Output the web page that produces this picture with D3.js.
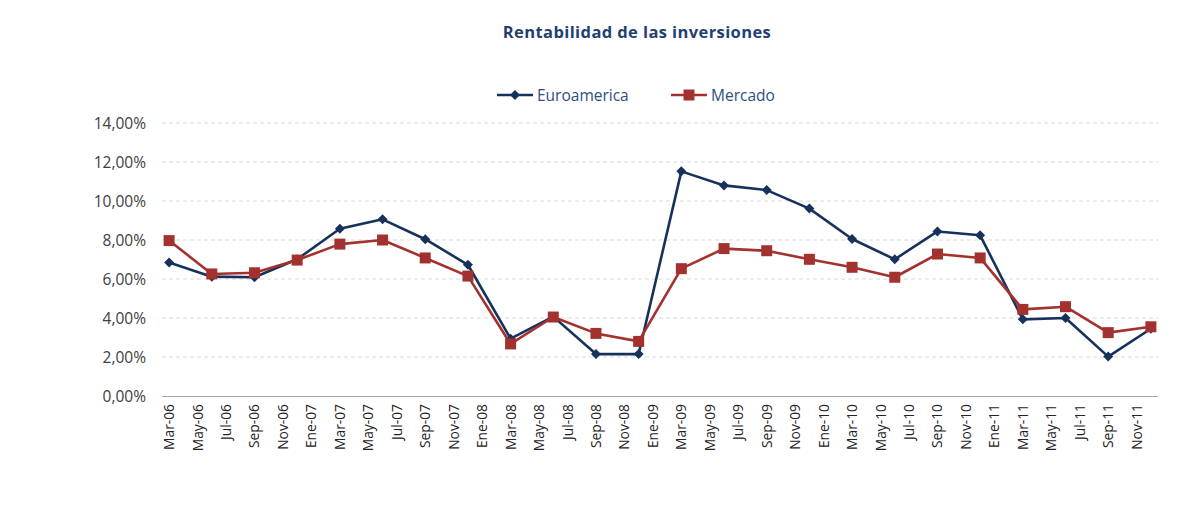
<!DOCTYPE html>
<html>
<head>
<meta charset="utf-8">
<script src="https://cdn.jsdelivr.net/npm/d3@7"></script>
<style>
  body { margin: 0; background: #fff; }
  svg { display: block; }
</style>
</head>
<body>
<svg id="chart" width="1199" height="525"></svg>
<script>
// quarterly observations
const fechas = [
  '2006-03', '2006-06', '2006-09', '2006-12',
  '2007-03', '2007-06', '2007-09', '2007-12',
  '2008-03', '2008-06', '2008-09', '2008-12',
  '2009-03', '2009-06', '2009-09', '2009-12',
  '2010-03', '2010-06', '2010-09', '2010-12',
  '2011-03', '2011-06', '2011-09', '2011-12'
];
const euroamerica = [
  6.85, 6.12, 6.09, 7.01,
  8.58, 9.06, 8.04, 6.73,
  2.94, 4.07, 2.15, 2.15,
  11.52, 10.80, 10.56, 9.61,
  8.05, 7.01, 8.44, 8.24,
  3.93, 4.00, 2.02, 3.45
];
const mercado = [
  7.97, 6.26, 6.32, 6.97,
  7.79, 8.00, 7.08, 6.15,
  2.67, 4.05, 3.21, 2.80,
  6.53, 7.56, 7.45, 7.01,
  6.60, 6.09, 7.28, 7.08,
  4.44, 4.58, 3.25, 3.55
];
const mesesEs = ['Ene', 'Feb', 'Mar', 'Abr', 'May', 'Jun', 'Jul', 'Ago', 'Sep', 'Oct', 'Nov', 'Dic'];
const yTicks = [0, 2, 4, 6, 8, 10, 12, 14];

const svg = d3.select('#chart');
const margin = { left: 162, right: 1158, top: 123, bottom: 396 };

const parse = d3.timeParse('%Y-%m');
const meses = d3.timeMonth.range(parse('2006-03'), parse('2012-01'));
const key = d => d3.timeFormat('%Y-%m')(d);

const x = d3.scaleBand()
  .domain(meses.map(key))
  .range([margin.left, margin.right])
  .padding(0);
const y = d3.scaleLinear().domain([0, 14]).range([margin.bottom, margin.top]);
const cx = k => x(k) + x.bandwidth() / 2;

const fmtPct = v => d3.format('.2f')(v).replace('.', ',') + '%';

// title
svg.append('text')
  .attr('x', 637)
  .attr('y', 38)
  .attr('text-anchor', 'middle')
  .style('font-family', '"Open Sans", sans-serif')
  .style('font-weight', 'bold')
  .style('font-size', '16.5px')
  .style('letter-spacing', '0.4px')
  .style('fill', '#1f3f73')
  .text('Rentabilidad de las inversiones');

// gridlines
svg.append('g')
  .selectAll('line')
  .data(yTicks.filter(d => d > 0))
  .enter()
  .append('line')
  .attr('x1', margin.left)
  .attr('x2', margin.right)
  .attr('y1', d => y(d))
  .attr('y2', d => y(d))
  .style('stroke', '#d9d9d9')
  .style('stroke-width', 1)
  .style('stroke-dasharray', '4,3');

// y labels
svg.append('g')
  .selectAll('text')
  .data(yTicks)
  .enter()
  .append('text')
  .attr('x', 146)
  .attr('y', d => y(d) + 5.5)
  .attr('text-anchor', 'end')
  .style('font-family', '"Open Sans", sans-serif')
  .style('font-size', '15.5px')
  .style('fill', '#404040')
  .text(fmtPct);

// x axis line
svg.append('line')
  .attr('x1', margin.left)
  .attr('x2', margin.right)
  .attr('y1', margin.bottom + 0.5)
  .attr('y2', margin.bottom + 0.5)
  .style('stroke', '#a6a6a6')
  .style('stroke-width', 1.2);

// x labels every two months
const etiquetas = meses.filter((d, i) => i % 2 === 0);
svg.append('g')
  .selectAll('text')
  .data(etiquetas)
  .enter()
  .append('text')
  .attr('transform', d => `translate(${cx(key(d)) + 5},${margin.bottom + 8})rotate(-90)`)
  .attr('text-anchor', 'end')
  .style('font-family', '"Open Sans", sans-serif')
  .style('font-size', '13.8px')
  .style('fill', '#222')
  .text(d => `${mesesEs[d.getMonth()]}-${d3.timeFormat('%y')(d)}`);

const series = [
  { name: 'Euroamerica', values: euroamerica, color: '#16325c', marker: 'diamond' },
  { name: 'Mercado', values: mercado, color: '#a3322f', marker: 'square' }
];

const line = d3.line()
  .x(d => cx(d.fecha))
  .y(d => y(d.v));

function drawMarker(sel, s) {
  if (s.marker === 'square') {
    sel.append('rect')
      .attr('x', -5.5).attr('y', -5.5)
      .attr('width', 11).attr('height', 11)
      .style('fill', s.color);
  } else {
    sel.append('path')
      .attr('d', 'M0,-5L5,0L0,5L-5,0Z')
      .style('fill', s.color);
  }
}

series.forEach((s) => {
  const pts = fechas.map((f, i) => ({ fecha: f, v: s.values[i] }));
  const g = svg.append('g');
  g.append('path')
    .datum(pts)
    .attr('d', line)
    .style('fill', 'none')
    .style('stroke', s.color)
    .style('stroke-width', 2.6)
    .style('stroke-linejoin', 'round');
  g.selectAll('g.pt')
    .data(pts)
    .enter()
    .append('g')
    .attr('class', 'pt')
    .attr('transform', d => `translate(${cx(d.fecha)},${y(d.v)})`)
    .each(function () { drawMarker(d3.select(this), s); });
});

// legend
const legend = [
  { s: series[0], x1: 497, tx: 537 },
  { s: series[1], x1: 671, tx: 711 }
];
legend.forEach((l) => {
  const g = svg.append('g').attr('transform', `translate(${l.x1},95)`);
  g.append('line')
    .attr('x1', 0).attr('x2', 36)
    .style('stroke', l.s.color)
    .style('stroke-width', 2.6);
  const m = g.append('g').attr('transform', 'translate(18,0)');
  drawMarker(m, l.s);
  svg.append('text')
    .attr('x', l.tx)
    .attr('y', 101)
    .style('font-family', '"Open Sans", sans-serif')
    .style('font-size', '15.5px')
    .style('fill', '#2d4f80')
    .text(l.s.name);
});
</script>
</body>
</html>
